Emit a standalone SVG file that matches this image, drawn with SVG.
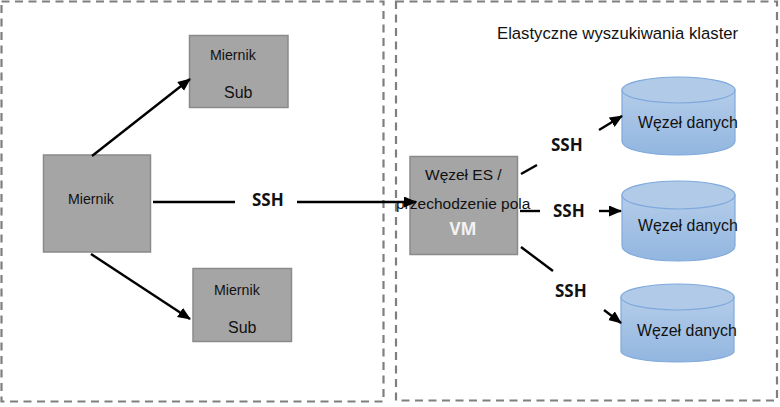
<svg xmlns="http://www.w3.org/2000/svg" width="780" height="407" viewBox="0 0 780 407">
<defs>
<linearGradient id="cyl" x1="0" y1="0" x2="0" y2="1"><stop offset="0" stop-color="#b4cce9"/><stop offset="1" stop-color="#92b6e0"/></linearGradient>
<marker id="arr" markerUnits="userSpaceOnUse" markerWidth="14" markerHeight="12" refX="12" refY="5.500" orient="auto"><path d="M0,0 L13,5.500 L0,11 Z" fill="#000"/></marker>
</defs>
<style>
.t{font-family:"Liberation Sans",Arial,sans-serif;font-size:16px;fill:#111}
.s{font-size:14.200px}
.n{font-size:15.500px}
.d{font-size:15.900px}
.ssh{font-family:"Open Sans","Liberation Sans",sans-serif;font-weight:700;font-size:17px;fill:#111}
.box{fill:#a5a5a5;stroke:#8a8a8a;stroke-width:1.5}
.zone{fill:none;stroke:#7f7f7f;stroke-width:2.200;stroke-dasharray:8 5.500}
.line{fill:none;stroke:#000;stroke-width:2.400}
.cyl{fill:url(#cyl);stroke:#7fa9dc;stroke-width:1.200}
.cap{fill:#b1cae8;stroke:#7fa9dc;stroke-width:1.200}
</style>
<g id="zone-left"><rect class="zone" x="1.500" y="1.500" width="382" height="400"/></g>
<g id="zone-right"><rect class="zone" x="396" y="1.500" width="381" height="399"/>
<text class="t" x="497" y="39" style="font-size:16.700px">Elastyczne wyszukiwania klaster</text></g>
<g id="node-miernik-sub-1"><rect class="box" x="189.500" y="35.500" width="98.500" height="72"/>
<text class="t s" x="210" y="60">Miernik</text><text class="t" x="224" y="98">Sub</text></g>
<g id="node-miernik"><rect class="box" x="43.500" y="155" width="107" height="97"/>
<text class="t s" x="68" y="204">Miernik</text></g>
<g id="node-miernik-sub-2"><rect class="box" x="193" y="268.500" width="98.500" height="73"/>
<text class="t s" x="214" y="295">Miernik</text><text class="t" x="228" y="333">Sub</text></g>
<g id="node-es"><rect class="box" x="410" y="156.500" width="107.500" height="98"/>
<text class="t n" x="425" y="180">Węzeł ES /</text><text class="t n" x="396" y="209">przechodzenie pola</text>
<text x="463" y="235" text-anchor="middle" style="font-family:'Open Sans','Liberation Sans',sans-serif;font-weight:700;font-size:17px;fill:#f2f2f2">VM</text></g>
<g id="node-data-1"><path class="cyl" d="M622,90 V141 C622,149 645,155 678,155 C711,155 735,149 735,141 V90 Z"/><ellipse class="cap" cx="678.500" cy="90" rx="56.500" ry="13"/>
<text class="t d" x="638" y="128">Węzeł danych</text></g>
<g id="node-data-2"><path class="cyl" d="M622,195 V246 C622,254 645,261 678,261 C711,261 735,254 735,246 V195 Z"/><ellipse class="cap" cx="678.500" cy="195" rx="56.500" ry="14"/>
<text class="t d" x="638" y="231">Węzeł danych</text></g>
<g id="node-data-3"><path class="cyl" d="M621,297 V351 C621,357 645,362 677,362 C709,362 734,357 734,351 V297 Z"/><ellipse class="cap" cx="677.500" cy="297" rx="56.500" ry="13"/>
<text class="t d" x="637" y="336">Węzeł danych</text></g>
<g id="connectors">
<line class="line" x1="92" y1="156" x2="190" y2="79" marker-end="url(#arr)"/>
<line class="line" x1="91" y1="254" x2="190" y2="319" marker-end="url(#arr)"/>
<line class="line" x1="153" y1="202" x2="235" y2="202"/>
<line class="line" x1="297" y1="202" x2="416" y2="202" marker-end="url(#arr)"/>
<line class="line" x1="521" y1="174" x2="537" y2="165"/>
<line class="line" x1="520" y1="211" x2="540" y2="211"/>
<line class="line" x1="521" y1="247" x2="553" y2="271"/>
<line class="line" x1="599" y1="130" x2="622" y2="116" marker-end="url(#arr)"/>
<line class="line" x1="599" y1="211" x2="621" y2="211" marker-end="url(#arr)"/>
<line class="line" x1="604" y1="310" x2="621" y2="323" marker-end="url(#arr)"/>
<text class="ssh" x="252" y="206">SSH</text>
<text class="ssh" x="551" y="151">SSH</text>
<text class="ssh" x="553" y="217">SSH</text>
<text class="ssh" x="555" y="297">SSH</text>
</g>
</svg>
